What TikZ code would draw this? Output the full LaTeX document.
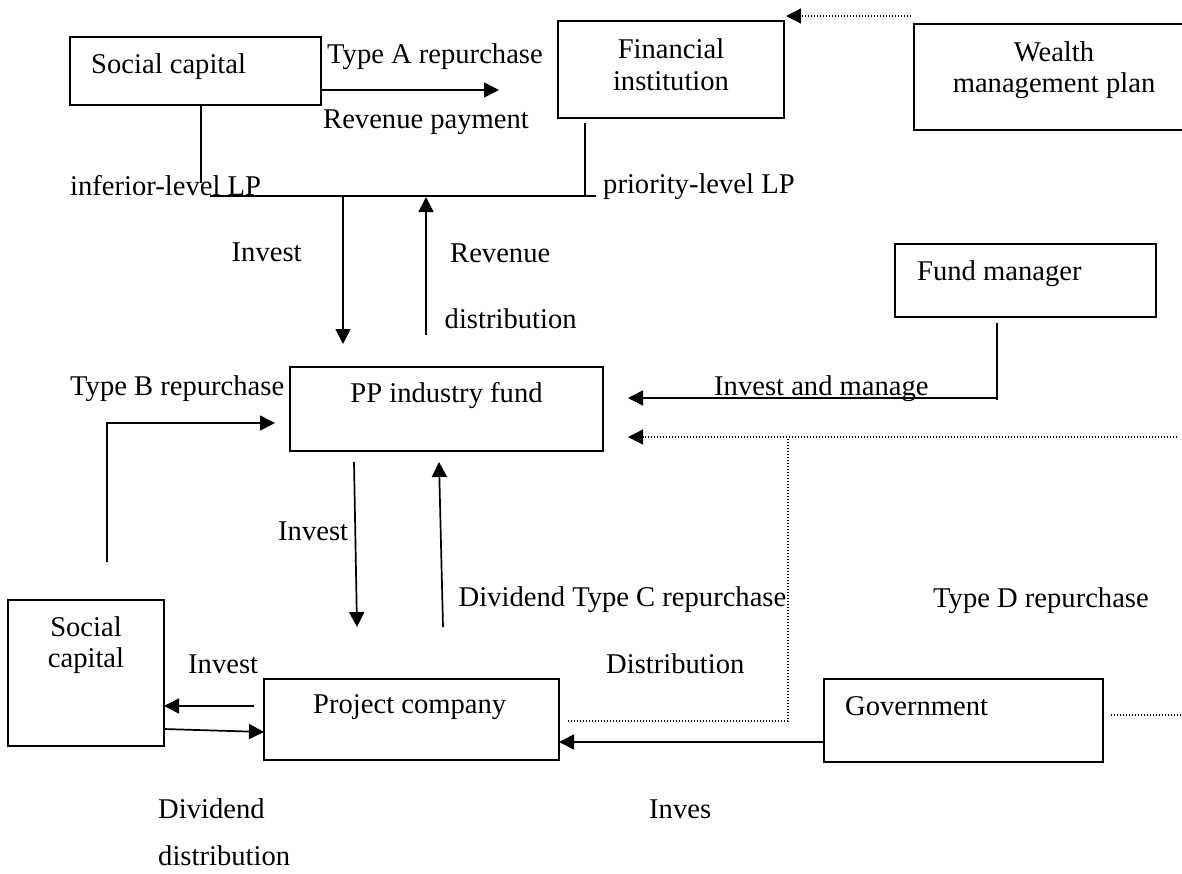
\documentclass[tikz,border=0pt]{standalone}
\usepackage{fontspec}
\setmainfont{Liberation Serif}
\usetikzlibrary{arrows.meta}
\begin{document}
\begin{tikzpicture}[x=1pt, y=-1pt,
  box/.style={draw, line width=1.7pt, rectangle, inner sep=0pt, outer sep=0pt},
  txt/.style={font=\fontsize{28.6pt}{32pt}\selectfont, inner sep=0pt, anchor=base west},
  ctxt/.style={txt, anchor=base},
  ln/.style={line width=1.7pt},
  arr/.style={line width=1.7pt, -{Triangle[length=15pt,width=15pt]}},
  dot/.style={line width=1.3pt, dash pattern=on 1.3pt off 1.7pt},
  dotarr/.style={dot, -{Triangle[length=15pt,width=15pt]}}]
\useasboundingbox (0,0) rectangle (1182,873);

% boxes
\node[box, minimum width=251pt, minimum height=68pt]  (sc1) at (195.5,71)   {};
\node[box, minimum width=226pt, minimum height=97pt]  (fin) at (671,69.5)   {};
\node[box, minimum width=280pt, minimum height=106pt] (wmp) at (1054,77)    {};
\node[box, minimum width=261pt, minimum height=73pt]  (fm)  at (1025.5,280.5) {};
\node[box, minimum width=313pt, minimum height=84pt]  (pp)  at (446.5,409)  {};
\node[box, minimum width=156pt, minimum height=146pt] (sc2) at (86,673)     {};
\node[box, minimum width=295pt, minimum height=81pt]  (pc)  at (411.5,719.5) {};
\node[box, minimum width=279pt, minimum height=83pt]  (gov) at (963.5,720.5) {};

% box texts
\node[txt]  (tsc1) at (91,73)    {Social capital};
\node[ctxt] (tfin1) at (671,58)  {Financial};
\node[ctxt] (tfin2) at (671,90)  {institution};
\node[ctxt] (twmp1) at (1054,61) {Wealth};
\node[ctxt] (twmp2) at (1054,92) {management plan};
\node[txt]  (tfm) at (917,280)   {Fund manager};
\node[ctxt] (tpp) at (446.5,402) {PP industry fund};
\node[ctxt] (tsc2a) at (86,636)  {Social};
\node[ctxt] (tsc2b) at (86,667)  {capital};
\node[txt]  (tpc) at (313,713)   {Project company};
\node[txt]  (tgov) at (845,715)  {Government};

% connector labels
\node[txt] (lA1) at (327,63)    {Type A repurchase};
\node[txt] (lA2) at (323,128)   {Revenue payment};
\node[txt] (lLP1) at (70,195)   {inferior-level LP};
\node[txt] (lLP2) at (603,193)  {priority-level LP};
\node[txt] (lInv1) at (231.5,261) {Invest};
\node[txt] (lRev1) at (450,262) {Revenue};
\node[txt] (lRev2) at (444.5,328) {distribution};
\node[txt] (lB) at (70,395)     {Type B repurchase};
\node[txt] (lIM) at (714,395)   {Invest and manage};
\node[txt] (lInv2) at (278,540) {Invest};
\node[txt] (lC1) at (458.5,606) {Dividend Type C repurchase};
\node[txt] (lC2) at (606,673)   {Distribution};
\node[txt] (lD) at (933,607)    {Type D repurchase};
\node[txt] (lInv3) at (188,673) {Invest};
\node[txt] (lDiv1) at (158,818) {Dividend};
\node[txt] (lDiv2) at (158,865) {distribution};
\node[txt] (lInv4) at (649,818) {Inves};

% top: type A repurchase and wealth management plan
\coordinate (ta) at (499,90);
\draw[arr] (sc1.east |- ta) -- (ta);
\draw[dotarr] ([shift={(-3,-8)}]wmp.north west) -- ([shift={(2,-5)}]fin.north east);

% limited partners joining line
\coordinate (lpL) at (210,196);
\coordinate (lpR) at (596,196);
\draw[ln] ([xshift=131pt]sc1.south west) -- ++(0,78);
\draw[ln] (lpL) -- (lpR);
\draw[ln] ([shift={(27,5)}]fin.south west) -- ([shift={(27,0)}]fin.south west |- lpR);

% LPs and the PP industry fund
\draw[arr] ([xshift=133pt]lpL) -- ([shift={(53,-23)}]pp.north west);
\draw[arr] ([shift={(136,-32)}]pp.north west) -- ([shift={(216,1)}]lpL);

% fund manager
\coordinate (fmc) at (997,398);
\draw[ln] ([shift={(102,6)}]fm.south west) -- ([shift={(102,83)}]fm.south west);
\draw[arr] (fmc) -- ([shift={(25,31)}]pp.north east);

% type C / type D repurchase (dotted)
\coordinate (dR) at (1177,437);
\coordinate (dk) at (788,437);
\draw[dotarr] (dR) -- ([shift={(25,70)}]pp.north east);
\draw[dot] ([shift={(9,42)}]pc.north east) -| (dk);
\draw[dot] ([shift={(8,36)}]gov.north east) -- ++(75,0);

% government investment
\draw[arr] ([shift={(0,63)}]gov.north west) -- ([shift={(0,63)}]gov.north west -| pc.east);

% PP industry fund and project company
\draw[arr] ([shift={(64,11)}]pp.south west) -- ([shift={(93,-52)}]pc.north west);
\draw[arr] ([shift={(179,-52)}]pc.north west) -- ([shift={(149,11)}]pp.south west);

% type B repurchase
\draw[arr] ([shift={(99,-38)}]sc2.north west) |- ([shift={(-15,56)}]pp.north west);

% social capital and project company
\draw[arr] ([shift={(-10,27)}]pc.north west) -- ([shift={(0,106)}]sc2.north east);
\draw[arr] ([shift={(0,129)}]sc2.north east) -- ([shift={(0,53)}]pc.north west);
\end{tikzpicture}
\end{document}
